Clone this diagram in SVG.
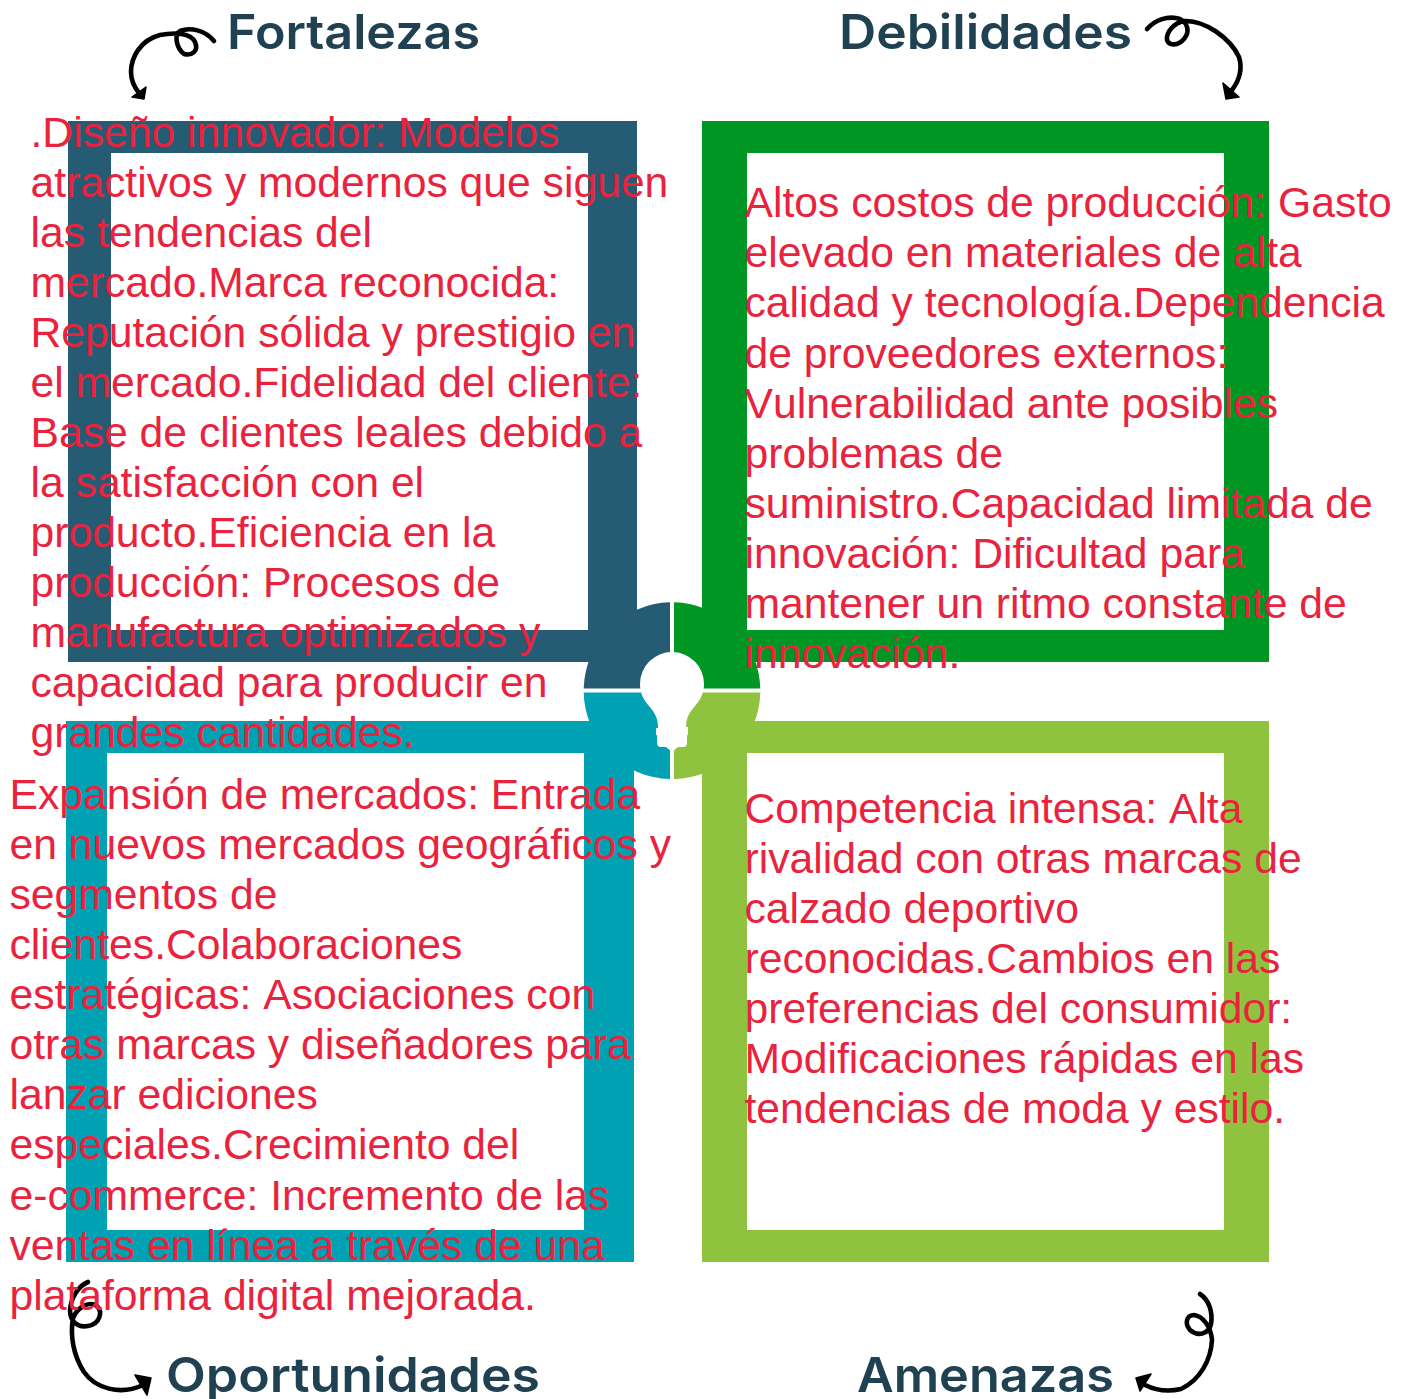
<svg xmlns="http://www.w3.org/2000/svg" width="1405" height="1399" viewBox="0 0 1405 1399">
<style>
.body{font-family:"Liberation Sans",Arial,sans-serif;font-size:42.67px;fill:#e9233d;font-kerning:none}
.title{font-family:Inter,"Open Sans",sans-serif;font-size:48px;font-weight:600;fill:#1f4152}
.curl{fill:none;stroke:#000;stroke-width:4.6;stroke-linecap:round;stroke-linejoin:round}
.head{fill:#000;stroke:#000;stroke-width:1.5;stroke-linejoin:round}
</style>
<rect width="1405" height="1399" fill="#fff"/>
<g id="quad-fortalezas"><path fill="#265c73" fill-rule="evenodd" d="M68 121H637V662H68ZM111 153V630H588V153Z"/><path fill="#265c73" d="M670 602.3A88.4 88.4 0 0 0 583.7 688.6H670Z"/></g>
<g id="quad-debilidades"><path fill="#009624" fill-rule="evenodd" d="M702 121H1269V662H702ZM747 153V630H1224V153Z"/><path fill="#009624" d="M674 602.3A88.4 88.4 0 0 1 760.3 688.6H674Z"/></g>
<g id="quad-oportunidades"><path fill="#00a1b2" fill-rule="evenodd" d="M66 721H634V1262H66ZM107 753V1230H584V753Z"/><path fill="#00a1b2" d="M670 779A88.4 88.4 0 0 1 583.7 692.6H670Z"/></g>
<g id="quad-amenazas"><path fill="#8fc33f" fill-rule="evenodd" d="M702 721H1269V1262H702ZM747 753V1230H1224V753Z"/><path fill="#8fc33f" d="M674 779A88.4 88.4 0 0 0 760.3 692.6H674Z"/></g>
<g id="bulb"><path fill="#fff" d="M672 652A32 32 0 0 1 704 684C704 694 700 700 695 706C689 713 686 718 686 727H688V735H687V743Q687 747 683 747H678L672 752L666 747H661Q657 747 657 743V735H656V728H658C658 718 655 713 649 706C644 700 640 694 640 684A32 32 0 0 1 672 652Z"/></g>
<g id="connectors">
<path class="curl" d="M214 41C205 30 190 27 180 31C174 34 176 48 184 54C192 56 199 51 195 42C191 33 175 32 160 35C140 40 131 58 131 72C131 80 135 88 139 93"/>
<polygon class="head" points="146,87 144,99 132,97"/>
<path class="curl" d="M1147 29C1155 20 1168 15 1180 19C1188 23 1190 32 1184 39C1178 46 1169 46 1167 40C1166 32 1174 23 1184 21C1205 20 1230 38 1239 57C1243 70 1238 82 1232 90"/>
<polygon class="head" points="1223,83 1239,97 1226,99"/>
<path class="curl" d="M88 1282C78 1286 71 1298 70 1310C70 1322 78 1328 88 1326C100 1324 103 1312 97 1306C90 1301 78 1306 73 1318C70 1335 73 1355 84 1372C95 1388 120 1396 143 1385"/>
<polygon class="head" points="135,1375 151,1378 147,1395"/>
<path class="curl" d="M1200 1294C1209 1300 1213 1312 1211 1324C1209 1334 1198 1337 1190 1330C1184 1323 1187 1315 1194 1315C1203 1316 1211 1327 1212 1340C1211 1360 1200 1380 1181 1389C1168 1392 1155 1390 1145 1385"/>
<polygon class="head" points="1136,1378 1151,1374 1140,1391"/>
</g>
<g id="title-fortalezas"><text class="title" x="227" y="49" textLength="253" lengthAdjust="spacingAndGlyphs">Fortalezas</text></g>
<g id="title-debilidades"><text class="title" x="839" y="49" textLength="293" lengthAdjust="spacingAndGlyphs">Debilidades</text></g>
<g id="title-oportunidades"><text class="title" x="166" y="1392" textLength="374" lengthAdjust="spacingAndGlyphs">Oportunidades</text></g>
<g id="title-amenazas"><text class="title" x="857" y="1392" textLength="257" lengthAdjust="spacingAndGlyphs">Amenazas</text></g>
<g id="text-fortalezas"><text class="body">
<tspan x="30.5" y="147">.Diseño innovador: Modelos</tspan>
<tspan x="30.5" y="197">atractivos y modernos que siguen</tspan>
<tspan x="30.5" y="247">las tendencias del</tspan>
<tspan x="30.5" y="297">mercado.Marca reconocida:</tspan>
<tspan x="30.5" y="347">Reputación sólida y prestigio en</tspan>
<tspan x="30.5" y="397">el mercado.Fidelidad del cliente:</tspan>
<tspan x="30.5" y="447">Base de clientes leales debido a</tspan>
<tspan x="30.5" y="497">la satisfacción con el</tspan>
<tspan x="30.5" y="547">producto.Eficiencia en la</tspan>
<tspan x="30.5" y="597">producción: Procesos de</tspan>
<tspan x="30.5" y="647">manufactura optimizados y</tspan>
<tspan x="30.5" y="697">capacidad para producir en</tspan>
<tspan x="30.5" y="747">grandes cantidades.</tspan>
</text></g>
<g id="text-debilidades"><text class="body">
<tspan x="744.5" y="217">Altos costos de producción: Gasto</tspan>
<tspan x="744.5" y="267">elevado en materiales de alta</tspan>
<tspan x="744.5" y="317">calidad y tecnología.Dependencia</tspan>
<tspan x="744.5" y="368">de proveedores externos:</tspan>
<tspan x="744.5" y="418">Vulnerabilidad ante posibles</tspan>
<tspan x="744.5" y="468">problemas de</tspan>
<tspan x="744.5" y="518">suministro.Capacidad limitada de</tspan>
<tspan x="744.5" y="568">innovación: Dificultad para</tspan>
<tspan x="744.5" y="618">mantener un ritmo constante de</tspan>
<tspan x="744.5" y="668">innovación.</tspan>
</text></g>
<g id="text-oportunidades"><text class="body">
<tspan x="9.5" y="809">Expansión de mercados: Entrada</tspan>
<tspan x="9.5" y="859">en nuevos mercados geográficos y</tspan>
<tspan x="9.5" y="909">segmentos de</tspan>
<tspan x="9.5" y="959">clientes.Colaboraciones</tspan>
<tspan x="9.5" y="1009">estratégicas: Asociaciones con</tspan>
<tspan x="9.5" y="1059">otras marcas y diseñadores para</tspan>
<tspan x="9.5" y="1109">lanzar ediciones</tspan>
<tspan x="9.5" y="1159">especiales.Crecimiento del</tspan>
<tspan x="9.5" y="1210">e-commerce: Incremento de las</tspan>
<tspan x="9.5" y="1260">ventas en línea a través de una</tspan>
<tspan x="9.5" y="1310">plataforma digital mejorada.</tspan>
</text></g>
<g id="text-amenazas"><text class="body">
<tspan x="744.5" y="823">Competencia intensa: Alta</tspan>
<tspan x="744.5" y="873">rivalidad con otras marcas de</tspan>
<tspan x="744.5" y="923">calzado deportivo</tspan>
<tspan x="744.5" y="973">reconocidas.Cambios en las</tspan>
<tspan x="744.5" y="1023">preferencias del consumidor:</tspan>
<tspan x="744.5" y="1073">Modificaciones rápidas en las</tspan>
<tspan x="744.5" y="1123">tendencias de moda y estilo.</tspan>
</text></g>
</svg>
